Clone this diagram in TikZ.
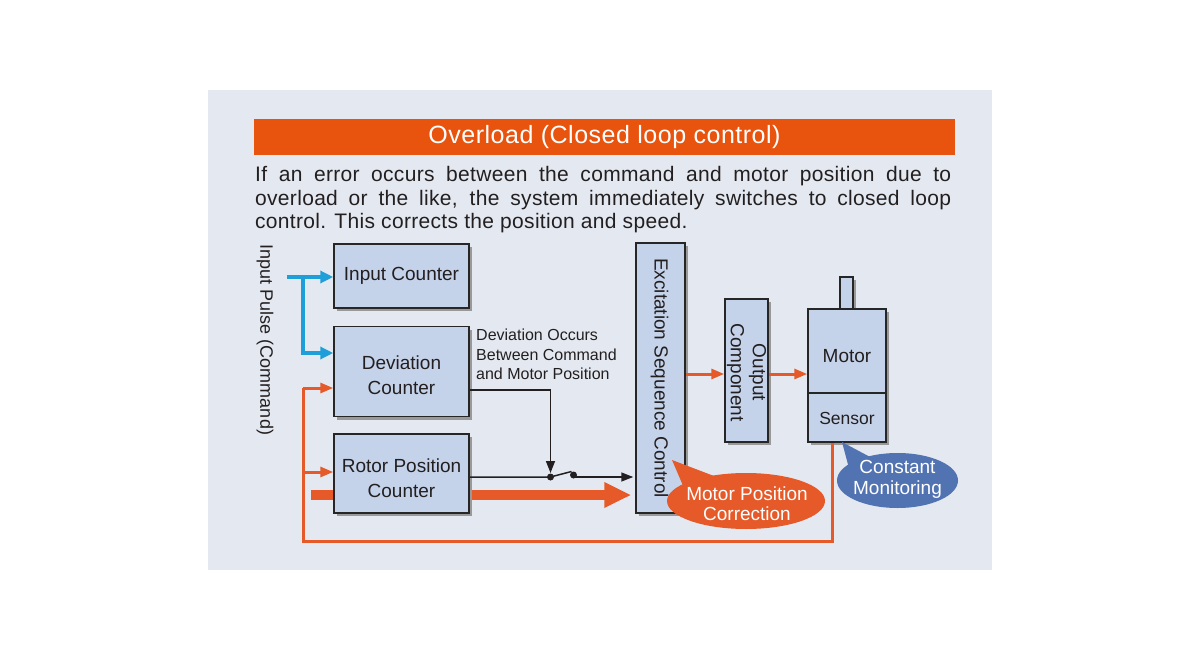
\documentclass[tikz,border=0pt]{standalone}
\usepackage{fontspec}
\setmainfont{Liberation Sans}
\newfontfamily\parafont[LetterSpace=1.5]{Liberation Sans}
\newfontfamily\titlefont[LetterSpace=2]{Liberation Sans}
\usetikzlibrary{shadows,arrows.meta,backgrounds}

\definecolor{panelbg}{HTML}{E4E9F1}
\definecolor{titleor}{HTML}{E8530E}
\definecolor{loopor}{HTML}{E55A28}
\definecolor{pulseblue}{HTML}{1E9FD9}
\definecolor{boxfill}{HTML}{C5D3EA}
\definecolor{calloutblue}{HTML}{5273B1}
\definecolor{inkgray}{HTML}{231F20}

\tikzset{
  block/.style = {draw=black!85, line width=1.5pt, fill=boxfill, inner sep=0pt,
    drop shadow={shadow xshift=3pt, shadow yshift=-3pt, fill=black!40, opacity=1}},
  blocktext/.style = {align=center, inner sep=0pt, text=inkgray,
    font=\fontsize{19}{25}\selectfont},
  paraline/.style = {anchor=base west, inner sep=0pt, text=inkgray,
    font=\parafont\fontsize{21}{23}\selectfont},
  pulse/.style = {draw=pulseblue, line width=4pt, -{Triangle[length=13pt,width=12pt]}},
  fb/.style = {draw=loopor, line width=3pt, -{Triangle[length=13pt,width=10pt]}},
  fbline/.style = {draw=loopor, line width=3pt},
  sig/.style = {draw=inkgray, line width=1.5pt, -{Triangle[length=12pt,width=9pt]}},
  callout/.style = {inner sep=0pt, text=white, align=center,
    font=\fontsize{19}{20.5}\selectfont}
}

\begin{document}
\begin{tikzpicture}[x=1pt, y=-1pt]
  \useasboundingbox (0,0) rectangle (1184,666);
  \begin{scope}[on background layer]
    \fill[panelbg] (208,90) rectangle (992,570);
  \end{scope}

  % heading and text
  \fill[titleor] (254,119) rectangle (955,155);
  \node[text=white, font=\titlefont\fontsize{25}{28}\selectfont] (title) at (604.5,137) {Overload (Closed loop control)};
  \node[paraline] (para1) at (255,182)
    {\makebox[696pt][s]{If an error occurs between the command and motor position due to}};
  \node[paraline] (para2) at (255,205)
    {\makebox[696pt][s]{overload or the like, the system immediately switches to closed loop}};
  \node[paraline] (para3) at (255,228) {control. This corrects the position and speed.};

  % blocks
  \node[block, minimum width=135pt, minimum height=64pt] (inc) at (401.5,276) {};
  \node[blocktext] (inc-t) at (inc) {Input Counter};
  \node[block, minimum width=135pt, minimum height=90pt] (dev) at (401.5,371.5) {};
  \node[blocktext] (dev-t) at ([yshift=-4pt]dev.center) {Deviation\\Counter};
  \node[block, minimum width=135pt, minimum height=79pt] (rot) at (401.5,473.5) {};
  \node[blocktext] (rot-t) at ([yshift=-5pt]rot.center) {Rotor Position\\Counter};
  \node[block, minimum width=49pt, minimum height=270pt] (exc) at (660.5,378) {};
  \node[blocktext, rotate=-90] (exc-t) at ([xshift=-1pt]exc.center) {Excitation Sequence Control};
  \node[block, minimum width=43pt, minimum height=143pt] (out) at (746.5,370.5) {};
  \node[blocktext, rotate=-90, font=\fontsize{19}{22}\selectfont] (out-t) at ([yshift=-2pt]out.center) {Output\\Component};
  \node[block, minimum width=13pt, minimum height=32pt] (shaft) at (846.5,293) {};
  \node[block, minimum width=78pt, minimum height=84pt] (motor) at (847,351) {};
  \node[blocktext] (motor-t) at ([yshift=-5pt]motor.center) {Motor};
  \node[block, minimum width=78pt, minimum height=49pt] (sensor) at (847,417.5) {};
  \node[blocktext, font=\fontsize{17.5}{20}\selectfont] (sensor-t) at ([yshift=-1pt]sensor.center) {Sensor};

  \node[rotate=-90, text=inkgray, font=\fontsize{18}{20}\selectfont] (pulsetxt) at (265,340) {Input Pulse (Command)};
  \node[anchor=north west, align=left, inner sep=0pt, text=inkgray, font=\fontsize{16}{19.5}\selectfont] (devnote) at (476,329)
    {Deviation Occurs\\Between Command\\and Motor Position};

  % input pulse
  \coordinate (pin) at (287,277);
  \coordinate (split) at (303,277);
  \draw[pulse] (pin) -- (inc.west |- pin);
  \draw[pulse] (split) |- ([yshift=18.5pt]dev.west);

  % feedback loop
  \coordinate (fbtop) at (303,388);
  \coordinate (fbcorner) at (303,541);
  \draw[fbline] ([xshift=-15pt]sensor.south) |- (fbcorner) -- (fbtop);
  \draw[fb] (fbtop) -- (dev.west |- fbtop);
  \draw[fb] (fbcorner |- 0,472) -- (rot.west |- 0,472);
  \coordinate (thick) at (311,495);
  \begin{scope}[on background layer]
    \draw[loopor, line width=10pt, -{Triangle[length=27pt,width=24pt]}, shorten >=4pt] (thick) -- (exc.west |- thick);
  \end{scope}

  % deviation switch
  \coordinate (sw1) at (550.5,477);
  \coordinate (sw2) at (573.5,475);
  \draw[sig] (dev.east |- 0,390) -| ([yshift=4pt]sw1);
  \draw[draw=inkgray, line width=1.5pt] (rot.east |- sw1) -- (sw1) -- (571.5,471.5);
  \draw[sig] (sw2 |- sw1) -- ([xshift=-2pt]exc.west |- sw1);
  \fill[inkgray] (sw1) circle (3.5pt) (sw2) circle (3.5pt);

  % drive chain
  \draw[fb] (exc.east |- 0,374) -- (out.west |- 0,374);
  \draw[fb] (out.east |- 0,374) -- (motor.west |- 0,374);

  % callouts
  \fill[loopor] (672,460) -- (684,488) -- (714,476) -- cycle;
  \fill[loopor] (746,501) ellipse (79pt and 28pt);
  \node[callout] (mpc) at (747,503.5) {Motor Position\\Correction};
  \fill[calloutblue] (842,442) -- (850,472) -- (872,458) -- cycle;
  \fill[calloutblue] (897.5,480.5) ellipse (60.5pt and 27.5pt);
  \node[callout] (cmon) at (897.5,479.5) {Constant\\Monitoring};
\end{tikzpicture}
\end{document}
